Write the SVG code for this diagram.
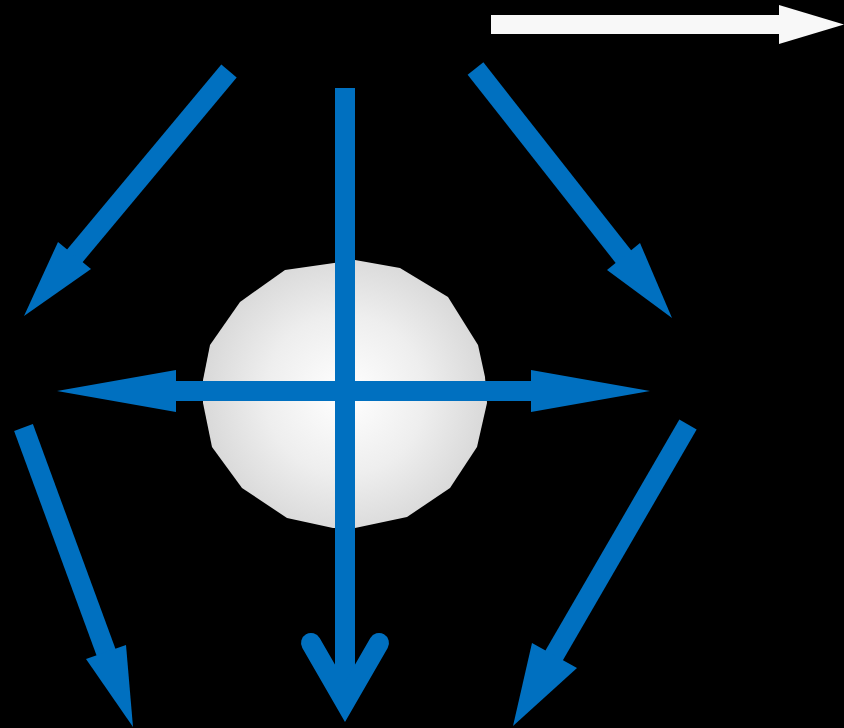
<svg xmlns="http://www.w3.org/2000/svg" width="844" height="728" viewBox="0 0 844 728">
  <defs>
    <radialGradient id="sphereGrad" cx="345" cy="395" r="145" gradientUnits="userSpaceOnUse">
      <stop offset="0" stop-color="#ffffff"/>
      <stop offset="0.55" stop-color="#eeeeee"/>
      <stop offset="1" stop-color="#d8d8d8"/>
    </radialGradient>
  </defs>
  <style>
    .shaft { stroke: #0070C0; stroke-width: 20; fill: none; stroke-linecap: butt; }
    .head { fill: #0070C0; stroke: none; }
    .white { fill: #f8f8f8; stroke: none; }
  </style>
  <rect x="0" y="0" width="844" height="728" fill="#000000"/>

  <g id="sphere">
    <polygon fill="url(#sphereGrad)" points="285,270 355,260 400,268 448,297 478,345 485,377 487,403 477,447 450,488 407,517 355,528 333,528 287,518 242,488 212,447 203,403 203,380 210,345 240,302"/>
  </g>

  <g id="direction-arrow">
    <rect class="white" x="491" y="15" width="290" height="19"/>
    <polygon class="white" points="779,5 844,24.5 779,44"/>
  </g>

  <g id="connectors">
    <g id="arrow-horizontal">
      <line class="shaft" x1="170" y1="391" x2="537" y2="391"/>
      <polygon class="head" points="176,370 176,412 57,391"/>
      <polygon class="head" points="531,370 531,412 650,391"/>
    </g>
    <g id="arrow-vertical">
      <line class="shaft" x1="345" y1="88" x2="345" y2="700"/>
      <polyline points="311,643 345,702 379,643" fill="none" stroke="#0070C0" stroke-width="20" stroke-linecap="round" stroke-linejoin="miter" stroke-miterlimit="10"/>
    </g>
    <g id="arrow-upper-left">
      <line class="shaft" x1="229" y1="71" x2="68" y2="264"/>
      <polygon class="head" points="58,242 91,269 24,316"/>
    </g>
    <g id="arrow-upper-right">
      <line class="shaft" x1="475.5" y1="68.5" x2="630" y2="265"/>
      <polygon class="head" points="607,270 640,243 672,318"/>
    </g>
    <g id="arrow-lower-left">
      <line class="shaft" x1="23.5" y1="427.5" x2="110" y2="663"/>
      <polygon class="head" points="86,659 126,645 133,727"/>
    </g>
    <g id="arrow-lower-right">
      <line class="shaft" x1="688" y1="424.5" x2="548" y2="666"/>
      <polygon class="head" points="532,643 577,668 513,726"/>
    </g>
  </g>
</svg>
